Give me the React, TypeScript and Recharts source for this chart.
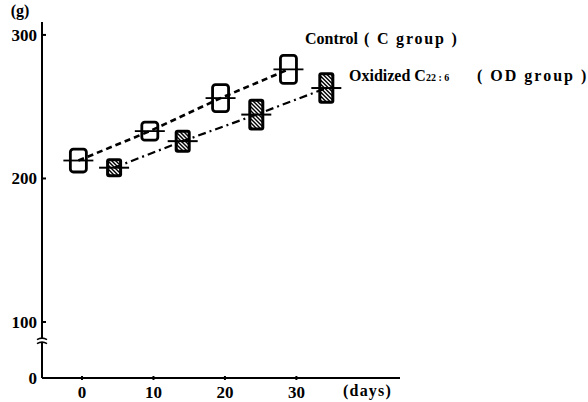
import {
  Bar,
  ComposedChart,
  Line,
  ReferenceDot,
  XAxis,
  YAxis,
} from 'recharts';

// body weight (g) of control vs oxidized DHA fed groups, box = mean ± SD
const CONTROL_DAYS = [-0.5, 9.5, 19.4, 28.9];
const CONTROL_MEAN = [212.5, 233, 256, 276];
const CONTROL_SD = [8, 6.3, 9.4, 9.8];

const OD_DAYS = [4.5, 14.1, 24.4, 34.2];
const OD_MEAN = [207.5, 226, 244.5, 263];
const OD_SD = [6.6, 8, 11, 11];

const X_TICKS = [0, 10, 20, 30];
const Y_TICKS = [61, 100, 200, 300];
const X_DOMAIN: [number, number] = [-5.6, 44.5];
const Y_DOMAIN: [number, number] = [61, 309];
const BREAK_AT = 87;

type Row = {
  day: number;
  group: 'C' | 'OD';
  mean: number;
  sd: number;
  c?: number;
  od?: number;
};

const rows: Row[] = [
  ...CONTROL_DAYS.map((day, i) => ({
    day,
    group: 'C' as const,
    mean: CONTROL_MEAN[i],
    sd: CONTROL_SD[i],
    c: CONTROL_MEAN[i],
  })),
  ...OD_DAYS.map((day, i) => ({
    day,
    group: 'OD' as const,
    mean: OD_MEAN[i],
    sd: OD_SD[i],
    od: OD_MEAN[i],
  })),
].sort((a, b) => a.day - b.day);

const FONT = '"Liberation Serif", "DejaVu Serif", serif';

const WeightBox = (props: any) => {
  const { x, y, width, height, payload, index } = props;
  if (x == null || y == null) return null;
  const midY = y + height / 2;
  if (payload.group === 'C') {
    return (
      <g>
        <rect x={x} y={y} width={width} height={height} rx={3} fill="#fff" stroke="#000" strokeWidth={2.8} />
        <line x1={x - 7} x2={x + width + 7} y1={midY} y2={midY} stroke="#000" strokeWidth={1.8} />
      </g>
    );
  }
  const clipId = `od-hatch-${index}`;
  const inset = 3;
  const stripes = [];
  for (let k = -height; k < width + height; k += 4) {
    stripes.push(
      <line
        key={k}
        x1={x + k}
        y1={y}
        x2={x + k + height}
        y2={y + height}
        stroke="#fff"
        strokeWidth={1.4}
      />,
    );
  }
  return (
    <g>
      <defs>
        <clipPath id={clipId}>
          <rect x={x + inset} y={y + inset} width={width - inset * 2} height={height - inset * 2} />
        </clipPath>
      </defs>
      <rect x={x} y={y} width={width} height={height} rx={3} fill="#000" />
      <g clipPath={`url(#${clipId})`}>{stripes}</g>
      <line x1={x - 7} x2={x + width + 7} y1={midY} y2={midY} stroke="#000" strokeWidth={2} />
    </g>
  );
};

const YTick = (props: any) => {
  const { x, y, payload } = props;
  const label = payload.value === Y_DOMAIN[0] ? '0' : String(payload.value);
  return (
    <g>
      {payload.value !== Y_DOMAIN[0] && (
        <line x1={x + 5} x2={x + 9} y1={y} y2={y} stroke="#000" strokeWidth={2} />
      )}
      <text x={x} y={y} dy={6} textAnchor="end" fontFamily={FONT} fontWeight="bold" fontSize={17} fill="#000">
        {label}
      </text>
    </g>
  );
};

const XTick = (props: any) => {
  const { x, y, payload } = props;
  return (
    <g>
      <line x1={x} x2={x} y1={y} y2={y - 4} stroke="#000" strokeWidth={2} />
      <text x={x} y={y + 18} textAnchor="middle" fontFamily={FONT} fontWeight="bold" fontSize={17} fill="#000">
        {payload.value}
      </text>
    </g>
  );
};

const DaysLabel = (props: any) => {
  const { viewBox } = props;
  if (!viewBox) return null;
  return (
    <text
      x={viewBox.x + viewBox.width - 57}
      y={viewBox.y + 18}
      textAnchor="start"
      fontFamily={FONT}
      fontWeight="bold"
      fontSize={16}
      letterSpacing={1.2}
      fill="#000"
    >
      (days)
    </text>
  );
};

const GramsLabel = (props: any) => {
  const { viewBox } = props;
  if (!viewBox) return null;
  return (
    <text x={viewBox.x + 20} y={viewBox.y - 6} textAnchor="middle" fontFamily={FONT} fontWeight="bold" fontSize={16} fill="#000">
      (g)
    </text>
  );
};

// little "≈" cut mark on the y axis between 0 and 100
const AxisBreak = (props: any) => {
  const { cx, cy } = props;
  if (cx == null || cy == null) return null;
  return (
    <g>
      <rect x={cx - 5} y={cy - 2} width={10} height={4} fill="#fff" />
      <path d={`M${cx - 5},${cy - 1} q5,-3 10,0`} fill="none" stroke="#000" strokeWidth={1.6} />
      <path d={`M${cx - 5},${cy + 3} q5,-3 10,0`} fill="none" stroke="#000" strokeWidth={1.6} />
    </g>
  );
};

const legendText = {
  position: 'absolute' as const,
  fontFamily: FONT,
  fontWeight: 'bold' as const,
  fontSize: 16,
  whiteSpace: 'nowrap' as const,
  lineHeight: '18px',
};

export default function App() {
  return (
    <div style={{ position: 'absolute', left: 0, top: 0, width: 588, height: 402, background: '#fff' }}>
      <ComposedChart
        width={588}
        height={402}
        data={rows}
        margin={{ top: 22, right: 188, left: 0, bottom: 0 }}
      >
        <XAxis
          dataKey="day"
          type="number"
          domain={X_DOMAIN}
          ticks={X_TICKS}
          height={24}
          axisLine={{ stroke: '#000', strokeWidth: 1.8 }}
          tickLine={false}
          tickSize={0}
          tick={<XTick />}
          label={<DaysLabel />}
        />
        <YAxis
          type="number"
          domain={Y_DOMAIN}
          ticks={Y_TICKS}
          width={42}
          axisLine={{ stroke: '#000', strokeWidth: 2 }}
          tickLine={false}
          tickSize={0}
          tickMargin={5}
          tick={<YTick />}
          label={<GramsLabel />}
        />
        <Line
          dataKey="c"
          type="linear"
          stroke="#000"
          strokeWidth={2.6}
          strokeDasharray="6 4"
          dot={false}
          connectNulls
          isAnimationActive={false}
        />
        <Line
          dataKey="od"
          type="linear"
          stroke="#000"
          strokeWidth={2.2}
          strokeDasharray="8 4 2 4"
          dot={false}
          connectNulls
          isAnimationActive={false}
        />
        <Bar
          dataKey={(r: Row) => [r.mean - r.sd, r.mean + r.sd]}
          barSize={16}
          shape={<WeightBox />}
          isAnimationActive={false}
        />
        <ReferenceDot x={X_DOMAIN[0]} y={BREAK_AT} r={0} shape={<AxisBreak />} ifOverflow="visible" />
      </ComposedChart>
      <div style={{ ...legendText, left: 305, top: 30 }}>
        Control<span style={{ position: 'absolute', left: 59, letterSpacing: 1.8 }}>( C group )</span>
      </div>
      <div style={{ ...legendText, left: 349, top: 67 }}>
        Oxidized C<span style={{ fontSize: 10 }}>22 : 6</span>
        <span style={{ position: 'absolute', left: 128, letterSpacing: 2 }}>( OD group )</span>
      </div>
    </div>
  );
}
